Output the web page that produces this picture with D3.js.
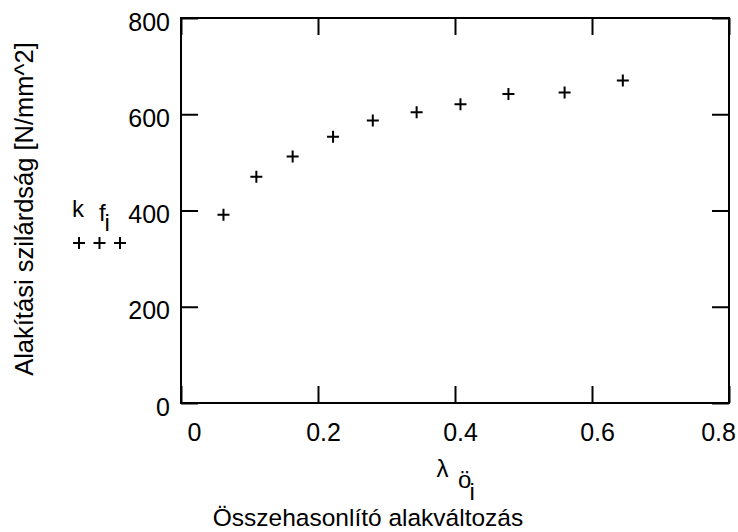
<!DOCTYPE html>
<html>
<head>
<meta charset="utf-8">
<script src="https://cdn.jsdelivr.net/npm/d3@7/dist/d3.min.js"></script>
<style>
  html, body { margin: 0; padding: 0; background: #fff; }
  svg { display: block; font-family: "Liberation Sans", Arial, sans-serif; }
</style>
</head>
<body>
<svg id="chart" width="738" height="532"></svg>
<script>
// Comparative strain (λö_i) vs. flow stress (k_f_i) measurements
const strain = [0.062, 0.110, 0.163, 0.222, 0.280, 0.344, 0.408, 0.478, 0.560, 0.645];
const flowStress = [391, 470, 512, 553, 587, 604, 621, 642, 645, 670];
const xTicks = [0, 0.2, 0.4, 0.6, 0.8];
const yTicks = [0, 200, 400, 600, 800];
const xTitle = "Összehasonlító alakváltozás";
const yTitle = "Alakítási szilárdság [N/mm^2]";

const svg = d3.select("#chart");
const m = { left: 181, right: 729, top: 18, bottom: 403 };
const x = d3.scaleLinear().domain([0, 0.8]).range([m.left, m.right]);
const y = d3.scaleLinear().domain([0, 800]).range([m.bottom, m.top]);
const tick = 17;
const fmt = d => d === 0 ? "0" : d3.format(".1f")(d);

// bottom axis with labels
const gx = svg.append("g").attr("transform", `translate(0,${m.bottom})`)
  .call(d3.axisBottom(x).tickValues(xTicks).tickSize(-tick).tickSizeOuter(0).tickPadding(20).tickFormat(fmt));
// left axis with labels
const gy = svg.append("g").attr("transform", `translate(${m.left},0)`)
  .call(d3.axisLeft(y).tickValues(yTicks).tickSize(-tick).tickSizeOuter(0).tickPadding(11).tickFormat(d3.format("d")));
// mirrored ticks on top and right
const gt = svg.append("g").attr("transform", `translate(0,${m.top})`)
  .call(d3.axisTop(x).tickValues(xTicks).tickSize(-tick).tickSizeOuter(0).tickFormat(""));
const gr = svg.append("g").attr("transform", `translate(${m.right},0)`)
  .call(d3.axisRight(y).tickValues(yTicks).tickSize(-tick).tickSizeOuter(0).tickFormat(""));

[gx, gy, gt, gr].forEach(g => {
  g.select(".domain").remove();
  g.selectAll(".tick line").attr("stroke", "#000").attr("stroke-width", 2);
  g.selectAll(".tick text").attr("fill", "#000").attr("font-size", 25)
    .attr("font-family", "Liberation Sans, Arial, sans-serif");
});
// x labels sit slightly right of their ticks, the last one pulled inside
gx.selectAll(".tick text").attr("x", (d, i) => i === 0 ? 13 : (i === xTicks.length - 1 ? -11 : 5));
gy.selectAll(".tick text").attr("y", 4);

// frame
svg.append("rect").attr("x", m.left).attr("y", m.top)
  .attr("width", m.right - m.left).attr("height", m.bottom - m.top)
  .attr("fill", "none").attr("stroke", "#000").attr("stroke-width", 2);

// data markers (+)
const s = 6;
svg.append("g").selectAll("path").data(strain).join("path")
  .attr("d", (d, i) => {
    const px = x(d), py = y(flowStress[i]);
    return `M${px - s},${py}h${2 * s}M${px},${py - s}v${2 * s}`;
  })
  .attr("stroke", "#000").attr("stroke-width", 2).attr("fill", "none");

// y trace label: k f_i with sample markers
const lab = svg.append("g").attr("font-size", 24).attr("fill", "#000");
lab.append("text").attr("x", 72).attr("y", 217).text("k");
const fi = lab.append("text").attr("x", 99).attr("y", 221).text("f");
fi.append("tspan").attr("dx", -1.2).attr("dy", 10).text("i");
svg.append("g").selectAll("path").data([79, 99.5, 120]).join("path")
  .attr("d", px => `M${px - s},243h${2 * s}M${px},${243 - s}v${2 * s}`)
  .attr("stroke", "#000").attr("stroke-width", 2);

// x trace label: λ ö_i
const xl = svg.append("g").attr("font-size", 24).attr("fill", "#000");
xl.append("text").attr("x", 436.5).attr("y", 476.5).text("λ");
const oi = xl.append("text").attr("x", 458).attr("y", 487.5).text("ö");
oi.append("tspan").attr("dx", -1.8).attr("dy", 12.5).text("i");

// axis titles
svg.append("text").attr("x", (m.left + m.right) / 2 - 87).attr("y", 526)
  .attr("text-anchor", "middle").attr("font-size", 24.5).attr("fill", "#000").text(xTitle);
svg.append("text").attr("transform", "translate(33,209) rotate(-90)")
  .attr("text-anchor", "middle").attr("font-size", 25.5).attr("fill", "#000").text(yTitle);
</script>
</body>
</html>
